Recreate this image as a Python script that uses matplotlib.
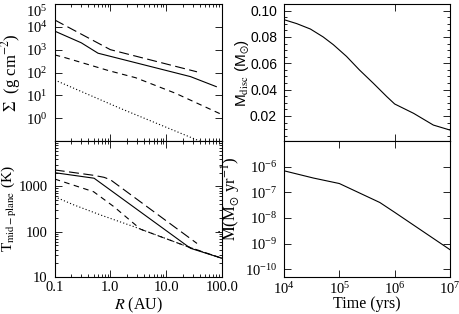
import numpy as np
import matplotlib
matplotlib.use('Agg')
import matplotlib.pyplot as plt
from matplotlib.ticker import NullFormatter, FixedLocator, FuncFormatter

plt.rcParams['font.family'] = ['Liberation Serif', 'DejaVu Serif']
plt.rcParams['mathtext.fontset'] = 'stix'
plt.rcParams['font.size'] = 10.5

# surface density vs radius
r_long = [0.1, 1.0, 36]
sig_long = [2.0e4, 1.0e3, 107]
r_solid = [0.1, 0.3, 0.6, 27.5, 80]
sig_solid = [6500, 2000, 700, 66, 24]
r_med = [0.1, 0.147, 0.94, 2.85, 14.8, 100]
sig_med = [590, 462, 120, 59, 12.3, 1.45]
r_dot = [0.1, 1.5, 40]
sig_dot = [47, 2.7, 0.1]

# mid-plane temperature vs radius
r_t_long = [0.1, 0.5, 0.77, 1.0, 36]
t_long = [2300, 1750, 1580, 1400, 55]
r_t_solid = [0.1, 0.51, 27.5, 100]
t_solid = [2000, 1510, 43, 26]
r_t_med = [0.1, 0.5, 1.16, 3.5, 24, 100]
t_med = [1450, 760, 355, 113, 47, 26]
r_t_dot = [0.1, 0.22, 0.67, 2.6, 24, 100]
t_dot = [590, 390, 233, 130, 47, 26]

# disc mass vs time
time_m = [1e4, 1.7e4, 3.0e4, 5.1e4, 7.8e4, 1.35e5, 2.3e5, 4.1e5, 7.2e5, 1.0e6, 2.2e6, 5.0e6, 1.0e7]
m_disc = [0.0931, 0.0901, 0.0860, 0.0800, 0.0741, 0.0652, 0.0550, 0.0449, 0.0347, 0.0291, 0.0220, 0.0131, 0.0093]

# accretion rate vs time
time_mdot = [1e4, 3.4e4, 1e5, 5.4e5, 1e6, 1e7]
mdot = [6.9e-7, 3.6e-7, 2.2e-7, 4.0e-8, 1.66e-8, 5.8e-10]

fig = plt.figure(figsize=(4.59, 3.14), dpi=100)
W, H = 459.0, 314.0

def make_ax(x0, x1, y0, y1):
    return fig.add_axes([x0 / W, 1 - y1 / H, (x1 - x0) / W, (y1 - y0) / H])

ax1 = make_ax(54.7, 221.7, 4, 141)
ax2 = make_ax(54.7, 221.7, 141, 277)
ax3 = make_ax(284, 450, 4, 141)
ax4 = make_ax(284, 450, 141, 277)

lw = 0.8
long_dash = (0, (9, 4))
med_dash = (0, (5, 4))
dotted = (0, (1, 2))

for ax in (ax1, ax2, ax3, ax4):
    ax.tick_params(which='both', direction='in', top=True, right=True, width=0.6)
    ax.tick_params(which='major', length=5, pad=5)
    ax.tick_params(which='minor', length=2.5)
    ax.tick_params(axis='x', which='major', pad=3)
    for s in ax.spines.values():
        s.set_linewidth(0.8)

# panel 1
ax1.plot(r_long, sig_long, color='k', lw=lw, linestyle=long_dash)
ax1.plot(r_solid, sig_solid, color='k', lw=lw)
ax1.plot(r_med, sig_med, color='k', lw=lw, linestyle=med_dash)
ax1.plot(r_dot, sig_dot, color='k', lw=lw, linestyle=dotted)
ax1.set_xscale('log')
ax1.set_yscale('log')
ax1.set_xlim(0.1, 100)
ax1.set_ylim(0.1, 1e5)
ax1.yaxis.set_major_locator(FixedLocator([1, 10, 100, 1e3, 1e4, 1e5]))
ax1.xaxis.set_major_formatter(NullFormatter())
ax1.xaxis.set_minor_formatter(NullFormatter())
ax1.set_ylabel(r'$\Sigma$  (g cm$^{-2}$)', fontsize=12)
ax1.yaxis.set_label_coords(-0.19, 0.5)
fig.canvas.draw()
ax1.get_yticklabels()[-1].set_verticalalignment('top')

# panel 2
ax2.plot(r_t_long, t_long, color='k', lw=lw, linestyle=long_dash)
ax2.plot(r_t_solid, t_solid, color='k', lw=lw)
ax2.plot(r_t_med, t_med, color='k', lw=lw, linestyle=med_dash)
ax2.plot(r_t_dot, t_dot, color='k', lw=lw, linestyle=dotted)
ax2.set_xscale('log')
ax2.set_yscale('log')
ax2.set_xlim(0.1, 100)
ax2.set_ylim(10, 1e4)
ax2.xaxis.set_major_locator(FixedLocator([0.1, 1, 10, 100]))
ax2.xaxis.set_major_formatter(FuncFormatter(lambda v, p: '%.1f' % v))
ax2.yaxis.set_major_locator(FixedLocator([10, 100, 1000]))
ax2.yaxis.set_major_formatter(FuncFormatter(lambda v, p: '%d' % v))
ax2.yaxis.set_minor_formatter(NullFormatter())
ax2.set_xlabel(r'$R$ (AU)', fontsize=11.5)
ax2.xaxis.set_label_coords(0.5, -0.135)
ax2.set_ylabel(r'T$_{\rm mid-plane}$ (K)', fontsize=11)
ax2.yaxis.set_label_coords(-0.215, 0.5)

# panel 3
ax3.plot(time_m, m_disc, color='k', lw=lw)
ax3.set_xscale('log')
ax3.set_xlim(1e4, 1e7)
ax3.set_ylim(0.001, 0.105)
ax3.yaxis.set_major_locator(FixedLocator([0.02, 0.04, 0.06, 0.08, 0.10]))
ax3.yaxis.set_major_formatter(FuncFormatter(lambda v, p: '%.2f' % v))
ax3.yaxis.set_minor_locator(FixedLocator(np.arange(0.005, 0.105, 0.005)))
ax3.xaxis.set_major_formatter(NullFormatter())
ax3.xaxis.set_minor_formatter(NullFormatter())
for t in ax3.get_yticklabels():
    t.set_family('Liberation Sans')
    t.set_fontsize(10)
ax3.set_ylabel(r'M$_{\rm disc}$ (M$_{\odot}$)', fontsize=11, family='Liberation Sans')
ax3.yaxis.set_label_coords(-0.2, 0.5)

# panel 4
ax4.plot(time_mdot, mdot, color='k', lw=lw)
ax4.set_xscale('log')
ax4.set_yscale('log')
ax4.set_xlim(1e4, 1e7)
ax4.set_ylim(5e-11, 1e-5)
ax4.yaxis.set_major_locator(FixedLocator([1e-10, 1e-9, 1e-8, 1e-7, 1e-6]))
ax4.yaxis.set_minor_formatter(NullFormatter())
ax4.xaxis.set_major_locator(FixedLocator([1e4, 1e5, 1e6, 1e7]))
ax4.set_xlabel('Time (yrs)', fontsize=11.5)
ax4.xaxis.set_label_coords(0.5, -0.14)
ax4.set_ylabel(r'$\dot{\rm M}$(M$_{\odot}$ yr$^{-1}$)', fontsize=12)
ax4.yaxis.set_label_coords(-0.25, 0.58)

fig.savefig('out.png', dpi=100)
